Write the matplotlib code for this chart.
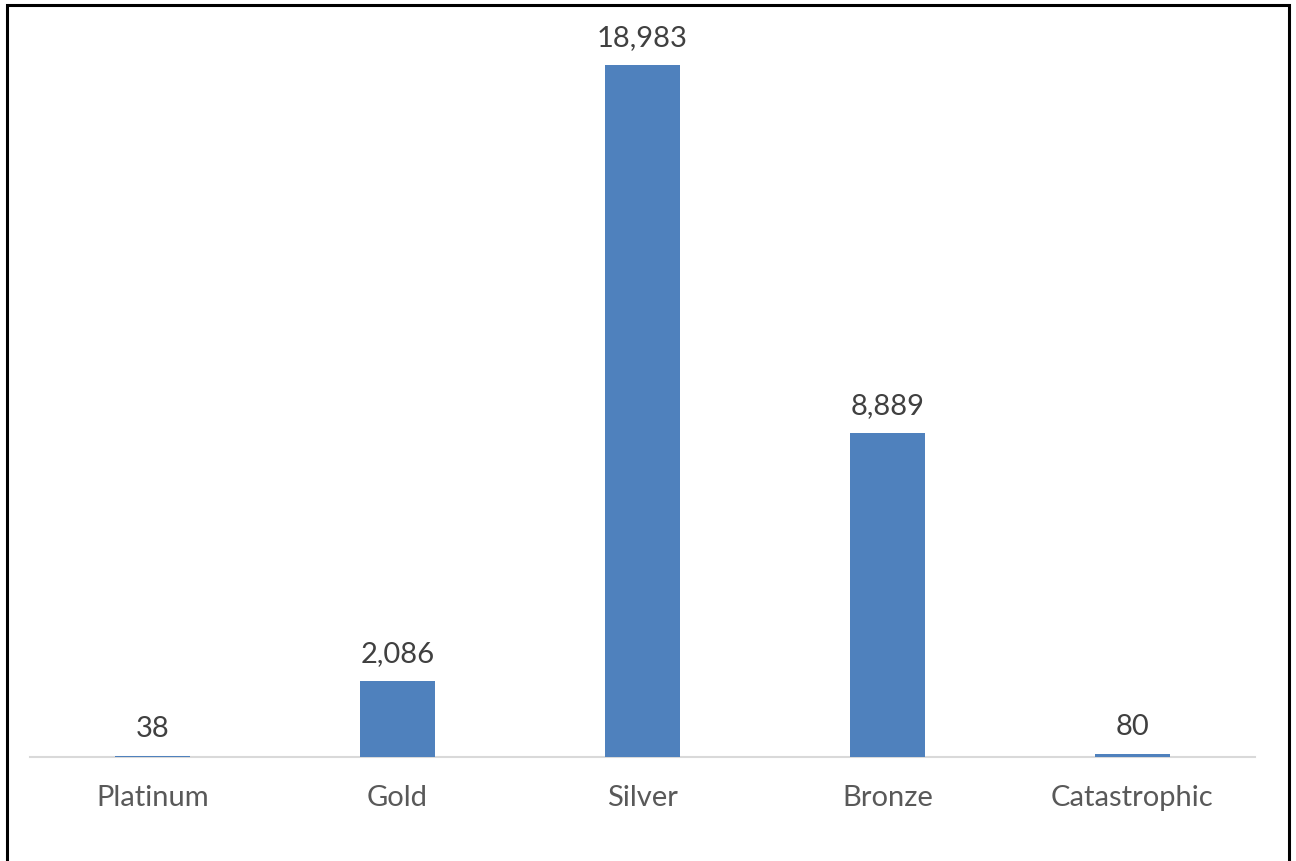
import matplotlib
matplotlib.use("Agg")
import matplotlib.pyplot as plt
from matplotlib.patches import Rectangle

categories = ["Platinum", "Gold", "Silver", "Bronze", "Catastrophic"]
counts = [38, 2086, 18983, 8889, 80]

plt.rcParams['font.family'] = ['Lato', 'DejaVu Sans']

fig = plt.figure(figsize=(12.96, 8.61), dpi=100)
ax = fig.add_axes([30 / 1296, 104 / 861, 1225 / 1296, 729 / 861])

x = range(len(categories))
bars = ax.bar(x, counts, width=0.31, color="#4F81BD", zorder=3)

for rect, v in zip(bars, counts):
    ax.annotate(f"{v:,}", (rect.get_x() + rect.get_width() / 2, v),
                xytext=(0, 10), textcoords="offset points",
                ha="center", va="bottom", fontsize=21, color="#404040")

ax.set_xlim(-0.5, len(categories) - 0.5)
ax.set_ylim(0, 20000)
ax.set_xticks(list(x))
ax.set_xticklabels(categories, fontsize=21, color="#595959")
ax.tick_params(axis="x", length=0, pad=20)
ax.set_yticks([])
for side in ["top", "right", "left"]:
    ax.spines[side].set_visible(False)
ax.spines["bottom"].set_color("#D9D9D9")
ax.spines["bottom"].set_linewidth(1.5)

# outer frame around the chart
fig.patches.append(Rectangle((7 / 1296, -0.01), 1282 / 1296, 1 - 5 / 861 + 0.01,
                             transform=fig.transFigure, fill=False,
                             edgecolor="black", linewidth=2.2))

fig.savefig("out.png", dpi=100)
